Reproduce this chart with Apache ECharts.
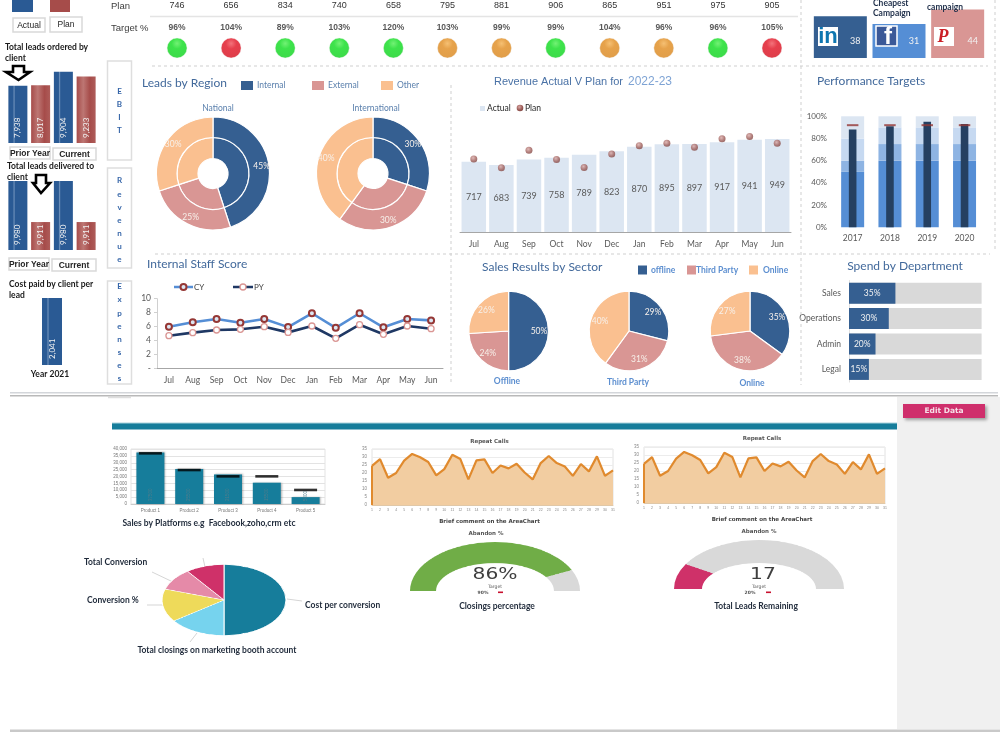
<!DOCTYPE html>
<html>
<head>
<meta charset="utf-8">
<title>Marketing dashboard</title>
<script src="https://cdn.jsdelivr.net/npm/echarts@6/dist/echarts.min.js"></script>
<style>
  html, body { margin: 0; padding: 0; background: #fff; width: 1000px; height: 750px; overflow: hidden; }
  .layer { position: absolute; left: 0; top: 0; width: 1000px; height: 750px; }
  .soft { filter: blur(0.45px); }
  .oval { position: absolute; }
  #captions { z-index: 5; pointer-events: none; }
</style>
</head>
<body>
<div id="lower" class="layer soft"></div>
<div id="upper" class="layer"></div>
<div id="captions" class="layer soft"></div>
<script>
// ---- values -------------------------------------------------------------
const months = ['Jul','Aug','Sep','Oct','Nov','Dec','Jan','Feb','Mar','Apr','May','Jun'];
const planRow = [746,656,834,740,658,795,881,906,865,951,975,905];
const targetPct = [96,104,89,103,120,103,99,99,104,96,96,105];
const targetLights = ['green','red','green','green','green','orange','orange','green','orange','orange','green','red'];

const orderedLeads = [7938,8017,9904,9233];
const deliveredLeads = [9980,9911,9980,9911];
const costPerLead = [2041];

const campaignNames = ['LinkedIn','Facebook','Pinterest'];
const campaignCosts = [38,31,44];

const regionNames = ['Internal','External','Other'];
const nationalShare = [45,25,30];
const internationalShare = [30,30,40];

const revenueActual = [717,683,739,758,789,823,870,895,897,917,941,949];

const perfYears = ['2017','2018','2019','2020'];
const bandLow = [50,60,60,60];
const bandMid = [10,15,15,15];
const bandHigh = [20,15,15,15];
const bandTop = [20,10,10,10];
const perfActual = [88,91,95,93];
const perfTarget = [92,92,92,92];

const staffCY = [5.96,6.6,7.07,6.54,7.07,5.9,7.9,5.8,7.9,5.87,7.07,6.87];
const staffPY = [4.66,5.1,5.48,5.58,5.96,5.14,6.06,4.28,6.25,4.86,6.06,5.67];

const sectorNames = ['offline','Third Party','Online'];
const offlineShare = [50,24,26];
const thirdPartyShare = [29,31,40];
const onlineShare = [35,38,27];

const departments = ['Sales','Operations','Admin','Legal'];
const departmentSpend = [35,30,20,15];

const products = ['Product 1','Product 2','Product 3','Product 4','Product 5'];
const platformSales = [37500,25500,21500,15500,5000];
const platformTargets = [36850,24700,20100,20100,10200];

const dayLabels = ['1','2','3','4','5','6','7','8','9','10','11','12','13','14','15','16','17','18','19','20','21','22','23','24','25','26','27','28','29','30','31'];
const repeatCalls = [24.5,28.7,17,20,27.7,31.9,29.8,26.9,18.5,22.4,31.4,28.7,16,27.9,28.5,20,24.7,22.9,25.8,20.3,16,26.2,30.6,26.2,24.1,18.2,25.6,21,30.4,18.2,21.6];

const metricNames = ['Cost per conversion','Total closings on marketing booth account','Conversion %','Total Conversion','Other'];
const metricShare = [50,15,15,10,10];

const closingsPct = 86;
const leadsRemaining = 17;

// ---- palette ------------------------------------------------------------
const NAVY = '#355f91', ROSE = '#d99694', PEACH = '#fac090', SKY = '#558ed5';
const TITLE = '#42699b', GREY_TEXT = '#595959', TEAL = '#167d9b';
const regionColors = [NAVY, ROSE, PEACH];
const LG = echarts.graphic.LinearGradient, RG = echarts.graphic.RadialGradient;

const blueSheen = new LG(0,0,1,0,[{offset:0,color:'#2a5a94'},{offset:.24,color:'#2a5a94'},{offset:.3,color:'#6d90ba'},{offset:.36,color:'#2a5a94'},{offset:1,color:'#2a5a94'}]);
const redSheen = new LG(0,0,1,0,[{offset:0,color:'#a64c4a'},{offset:.35,color:'#bd7673'},{offset:.7,color:'#a64c4a'},{offset:1,color:'#ae5c59'}]);
const lightFill = {
  green: new RG(.5,.28,.75,[{offset:0,color:'#4fee52'},{offset:.35,color:'#0ddc1e'},{offset:1,color:'#0cd01c'}]),
  red: new RG(.5,.28,.75,[{offset:0,color:'#f0505a'},{offset:.35,color:'#e00f20'},{offset:1,color:'#d40d1c'}]),
  orange: new RG(.5,.28,.75,[{offset:0,color:'#f3b050'},{offset:.35,color:'#e08b1e'},{offset:1,color:'#d8851c'}])
};
const planDot = new RG(.4,.35,.7,[{offset:0,color:'#d9a9a6'},{offset:.6,color:'#a0605c'},{offset:1,color:'#7f4440'}]);

// ---- option builders ----------------------------------------------------
const blank = () => ({ grid: [], xAxis: [], yAxis: [], series: [], graphic: [] });
const up = blank(), low = blank(), cap = blank();
const lato = (size, weight) => ({ fontSize: size, fontFamily: 'Lato', fontWeight: weight || 'normal' });
const sans = size => ({ fontSize: size, fontFamily: 'Liberation Sans' });

function cart(c, box, x, y) {
  const g = c.grid.length;
  c.grid.push(box);
  c.xAxis.push(Object.assign({ gridIndex: g }, x));
  c.yAxis.push(Object.assign({ gridIndex: g }, y));
  return { xAxisIndex: c.xAxis.length - 1, yAxisIndex: c.yAxis.length - 1, g };
}
function text(c, str, x, y, font, fill, align, extra) {
  c.graphic.push(Object.assign({ type: 'text', x, y, z: 100, silent: true,
    style: { text: str, font, fill: fill || '#333', align: align || 'left', verticalAlign: 'middle' } }, extra || {}));
}
function rect(c, x, y, w, h, fill, stroke, extra) {
  c.graphic.push(Object.assign({ type: 'rect', z: 90, silent: true, shape: { x, y, width: w, height: h },
    style: { fill: fill || 'transparent', stroke: stroke || null, lineWidth: stroke ? 1.5 : 0 } }, extra || {}));
}
function line(c, x1, y1, x2, y2, stroke, width, dash) {
  c.graphic.push({ type: 'line', z: 1, silent: true, shape: { x1, y1, x2, y2 },
    style: { stroke, lineWidth: width || 1, lineDash: dash || null } });
}
const hint = (c, x, y, w, h, str, font) => {
  rect(c, x, y, w, h, '#fff', '#d9d9d9');
  text(c, str, x + w / 2, y + h / 2 + .5, font || 'bold 8.5px "Liberation Sans Narrow", "Liberation Sans"', '#262626', 'center');
};
const LATO = s => s + 'px Lato';
const LATOB = s => 'bold ' + s + 'px Lato';

// ---- upper page ---------------------------------------------------------
// dashed panel rules
[[152,66,988,66],[155,254,990,254],[801,0,801,385],[451,85,451,385],[995,0,995,250]]
  .forEach(r => line(up, r[0], r[1], r[2], r[3], '#cfcfcf', 1, [3,3]));

// plan / target table
const cellX = i => 177 + i * 54.1;
text(up, 'Plan', 111, 6, '9.5px "Liberation Sans"', '#404040');
text(up, 'Target %', 111, 28, '9.5px "Liberation Sans"', '#404040');
line(up, 150, 16.5, 798, 16.5, '#e4e4e4', 1.5);
planRow.forEach((v, i) => text(up, String(v), cellX(i), 6, '9px "Liberation Sans"', '#333', 'center'));
targetPct.forEach((v, i) => text(up, v + '%', cellX(i), 28, 'bold 8.5px "Liberation Sans"', '#595959', 'center'));
const lights = cart(up, { left: 150, top: 38, width: 649, height: 20 },
  { type: 'category', data: months, show: false }, { type: 'value', min: 0, max: 2, show: false });
up.series.push({ type: 'scatter', xAxisIndex: lights.xAxisIndex, yAxisIndex: lights.yAxisIndex, symbolSize: 20, silent: true,
  data: targetLights.map((l, i) => ({ value: [months[i], 1], itemStyle: { color: lightFill[l], borderColor: '#f4f4f4', borderWidth: .5 } })) });

// left column: legend swatches and boxes
rect(up, 12, -2, 21, 14, '#2a5a94');
rect(up, 50, -2, 20, 14, '#a64c4a');
hint(up, 13, 18, 32, 14, 'Actual', '8.5px "Liberation Sans"');
hint(up, 50, 17, 32, 15, 'Plan', '8.5px "Liberation Sans"');

const sideLabel = { show: true, position: 'insideBottom', rotate: 90, align: 'left', verticalAlign: 'middle', distance: 5,
  color: '#f2f2f2', fontSize: 8, fontFamily: 'Lato', formatter: p => p.value.toLocaleString('en-US') };
function sideBars(c, box, cats, vals, max, min) {
  const a = cart(c, box, { type: 'category', data: cats, show: false }, { type: 'value', min, max, show: false });
  c.series.push({ type: 'bar', xAxisIndex: a.xAxisIndex, yAxisIndex: a.yAxisIndex, barWidth: 19, silent: true,
    data: vals.map((v, i) => ({ value: v, itemStyle: { color: i % 2 ? redSheen : blueSheen } })),
    label: sideLabel });
}
const blockBold = LATOB(8.5);
text(up, 'Total leads ordered by', 5, 47.5, blockBold, '#1a1a1a');
text(up, 'client', 5, 58, blockBold, '#1a1a1a');
sideBars(up, { left: 6.5, top: 71, width: 91, height: 72 }, ['Prior actual','Prior plan','Current actual','Current plan'], orderedLeads, 10000, 0);
hint(up, 10, 147, 40, 12, 'Prior Year');
hint(up, 53, 148, 43, 12, 'Current');

text(up, 'Total leads delivered to', 7, 166.5, blockBold, '#1a1a1a');
text(up, 'client', 7, 177, blockBold, '#1a1a1a');
sideBars(up, { left: 6.5, top: 181, width: 91, height: 69 }, ['Prior actual','Prior plan','Current actual','Current plan'], deliveredLeads, 9980, 9864);
hint(up, 9, 258, 40, 12, 'Prior Year');
hint(up, 52, 259, 44, 12, 'Current');

function arrow(points) {
  up.graphic.push({ type: 'polygon', z: 95, silent: true, shape: { points },
    style: { fill: '#fff', stroke: '#000', lineWidth: 2.6, lineJoin: 'miter' } });
}
arrow([[13,66],[24,66],[24,72],[30,72],[18.5,80],[6,72],[13,72]]);
arrow([[36,175],[46,175],[46,183],[50,183],[41,193],[33,183],[36,183]]);

text(up, 'Cost paid by client per', 9, 284.5, blockBold, '#1a1a1a');
text(up, 'lead', 9, 295, blockBold, '#1a1a1a');
const costAxes = cart(up, { left: 42, top: 298, width: 20, height: 67 },
  { type: 'category', data: ['2021'], show: false }, { type: 'value', min: 0, max: 2041, show: false });
up.series.push({ type: 'bar', xAxisIndex: costAxes.xAxisIndex, yAxisIndex: costAxes.yAxisIndex, barWidth: 20, silent: true,
  data: costPerLead, itemStyle: { color: blueSheen }, label: Object.assign({}, sideLabel, { distance: 6 }) });
text(up, 'Year 2021', 50, 374, blockBold, '#1a1a1a', 'center');

// vertical section tabs
function tab(y, h, letters, ys) {
  rect(up, 107.5, y, 24, h, '#fff', '#dedede');
  letters.split('').forEach((ch, i) => text(up, ch, 119.5, ys[i], 'bold 8px Lato', '#3565a8', 'center'));
}
tab(61, 99, 'EBIT', [91,104,117,130]);
tab(168, 100, 'Revenue', [180,194,207,220,233,246,259]);
tab(281, 103, 'Expenses', [286,299,313,326,339,352,365,378]);
line(up, 108, 397.5, 131, 397.5, '#dedede', 1.5);

// separator between pages
rect(up, 10, 392, 988, 1.5, '#d3d6da');
rect(up, 10, 395, 988, 1.5, '#b9b9b9');

// social tiles: height follows campaign cost
const tileAxes = cart(up, { left: 811, top: 3, width: 176, height: 55 },
  { type: 'category', data: campaignNames, show: false }, { type: 'value', min: 0, max: 50, show: false });
up.series.push({ type: 'bar', xAxisIndex: tileAxes.xAxisIndex, yAxisIndex: tileAxes.yAxisIndex, barWidth: 53, silent: true,
  data: campaignCosts.map((v, i) => ({ value: v, itemStyle: { color: [NAVY, SKY, ROSE][i] } })),
  label: Object.assign({ show: true, position: 'insideBottom', offset: [15, -7], color: '#f2f2f2' }, lato(9)) });
rect(up, 818, 27, 20, 19, '#fff');
text(up, 'in', 828, 36.5, 'bold 22px "Liberation Sans"', '#0e76b0', 'center');
rect(up, 876, 26, 21, 20, '#3b5998', '#fff');
text(up, 'f', 888, 37, 'bold 24px "Liberation Sans"', '#fff', 'center');
rect(up, 934, 27, 20, 19, '#fff');
text(up, 'P', 943, 37, 'bold italic 18px "Liberation Serif"', '#cb2027', 'center');
text(up, 'Cheapest', 873, 3, blockBold, '#1f2f4a');
text(up, 'Campaign', 873, 13, blockBold, '#1f2f4a');
text(up, 'campaign', 927, 7, blockBold, '#1f2f4a');

// leads by region
text(up, 'Leads by Region', 142, 83, LATO(12), TITLE);
regionNames.forEach((n, i) => {
  const x = [241, 312, 381][i];
  rect(up, x, 81, 12, 9, regionColors[i]);
  text(up, n, x + 16, 85.5, LATO(8.5), '#5b80ad');
});
text(up, 'National', 218, 108, LATO(8.5), '#5b80ad', 'center');
text(up, 'International', 376, 108, LATO(8.5), '#5b80ad', 'center');
function donut(center, share) {
  const data = share.map((v, i) => ({ value: v, name: regionNames[i], itemStyle: { color: regionColors[i] } }));
  const base = { type: 'pie', center, silent: true, startAngle: 90, labelLine: { show: false },
    itemStyle: { borderColor: '#fff', borderWidth: 1.2 } };
  up.series.push(Object.assign({}, base, { radius: [15, 36], data, label: { show: false } }));
  up.series.push(Object.assign({}, base, { radius: [36, 56.5], data,
    label: Object.assign({ show: true, position: 'inside', formatter: '{c}%', color: '#f7f0ea' }, lato(8.5)) }));
}
donut([213, 173.5], nationalShare);
donut([373, 173.5], internationalShare);

// revenue actual vs plan
text(up, 'Revenue Actual V Plan for', 494, 82, '11px "Liberation Sans"', '#4a72a6');
text(up, '2022-23', 628, 82, '12px "Liberation Sans"', '#7ea3d4');
rect(up, 480, 106, 5, 5, '#dce6f2');
text(up, 'Actual', 487, 108.5, LATO(8.5), '#262626');
up.graphic.push({ type: 'circle', z: 95, silent: true, shape: { cx: 520, cy: 108, r: 3.3 }, style: { fill: planDot } });
text(up, 'Plan', 525, 108.5, LATO(8.5), '#262626');
const revAxes = cart(up, { left: 460, top: 134, width: 331, height: 98 },
  { type: 'category', data: months, axisTick: { show: false }, axisLine: { lineStyle: { color: '#a6a6a6', width: 1 } },
    axisLabel: Object.assign({ color: GREY_TEXT, margin: 8, interval: 0 }, lato(8.5)) },
  { type: 'value', min: 0, max: 1000, show: false });
up.series.push({ type: 'bar', xAxisIndex: revAxes.xAxisIndex, yAxisIndex: revAxes.yAxisIndex, barWidth: 24.5, silent: true,
  data: revenueActual, itemStyle: { color: '#dce6f2' },
  label: Object.assign({ show: true, position: 'inside', color: GREY_TEXT }, lato(9)) });
up.series.push({ type: 'scatter', xAxisIndex: revAxes.xAxisIndex, yAxisIndex: revAxes.yAxisIndex, symbolSize: 7, silent: true,
  data: planRow, itemStyle: { color: planDot } });

// performance targets
text(up, 'Performance Targets', 817, 81.5, LATO(12), TITLE);
const perfBox = { left: 834, top: 116.3, width: 149.2, height: 111 };
const perfCat = { type: 'category', data: perfYears, axisTick: { show: false }, axisLine: { show: false },
  axisLabel: Object.assign({ color: GREY_TEXT, margin: 6 }, lato(8.5)) };
const perfVal = { type: 'value', min: 0, max: 100, interval: 20, splitLine: { show: false },
  axisLabel: Object.assign({ color: GREY_TEXT, formatter: '{value}%', margin: 7 }, lato(8)) };
const perfAxes = cart(up, perfBox, perfCat, perfVal);
[[bandLow,'#558ed5'],[bandMid,'#8eb4e3'],[bandHigh,'#c6d9f1'],[bandTop,'#dce6f2']].forEach(b =>
  up.series.push({ type: 'bar', stack: 'bands', barWidth: 23, silent: true, xAxisIndex: perfAxes.xAxisIndex, yAxisIndex: perfAxes.yAxisIndex,
    data: b[0], itemStyle: { color: b[1] } }));
up.xAxis.push({ gridIndex: perfAxes.g, type: 'category', data: perfYears, show: false });
const perfOverlay = up.xAxis.length - 1;
up.series.push({ type: 'bar', barWidth: 7.6, silent: true, xAxisIndex: perfOverlay, yAxisIndex: perfAxes.yAxisIndex,
  data: perfActual, itemStyle: { color: '#254061' }, z: 3 });
up.series.push({ type: 'scatter', symbol: 'rect', symbolSize: [11.5, 2], silent: true, xAxisIndex: perfOverlay, yAxisIndex: perfAxes.yAxisIndex,
  data: perfTarget, itemStyle: { color: '#953735' }, z: 4 });

// internal staff score
text(up, 'Internal Staff Score', 147, 264, LATO(12), TITLE);
const cyMarker = { color: '#dce6f2', borderColor: '#953735', borderWidth: 2 };
const pyMarker = { color: '#fff', borderColor: '#da9694', borderWidth: 1.3 };
function staffKey(x1, x2, color, marker, label) {
  line(up, x1, 287, x2, 287, color, 2.5);
  up.graphic.push({ type: 'circle', z: 95, silent: true, shape: { cx: (x1 + x2) / 2, cy: 287, r: 3 },
    style: { fill: marker.color, stroke: marker.borderColor, lineWidth: marker.borderWidth } });
  text(up, label, x2 + 1, 287.5, LATO(8), '#404040');
}
staffKey(174, 193, SKY, cyMarker, 'CY');
staffKey(233, 253, '#1f3864', pyMarker, 'PY');
const staffAxes = cart(up, { left: 157, top: 298.7, width: 286, height: 69.3 },
  { type: 'category', data: months, axisTick: { show: false }, axisLine: { lineStyle: { color: '#a6a6a6' } },
    axisLabel: Object.assign({ color: GREY_TEXT, margin: 8, interval: 0 }, lato(8.5)) },
  { type: 'value', min: 0, max: 10, interval: 2, splitLine: { show: false },
    axisLine: { show: true, lineStyle: { color: '#d0d0d0' } }, axisTick: { show: true, length: 3, lineStyle: { color: '#d0d0d0' } },
    axisLabel: Object.assign({ color: GREY_TEXT, margin: 6, formatter: v => v === 0 ? '-' : v }, lato(8.5)) });
up.series.push({ type: 'line', data: staffCY, xAxisIndex: staffAxes.xAxisIndex, yAxisIndex: staffAxes.yAxisIndex, silent: true,
  symbol: 'circle', symbolSize: 6, lineStyle: { color: SKY, width: 2.6 }, itemStyle: cyMarker });
up.series.push({ type: 'line', data: staffPY, xAxisIndex: staffAxes.xAxisIndex, yAxisIndex: staffAxes.yAxisIndex, silent: true,
  symbol: 'circle', symbolSize: 6, lineStyle: { color: '#1f3864', width: 2.6 }, itemStyle: pyMarker });

// sales by sector
text(up, 'Sales Results by Sector', 482, 267.5, LATO(12), TITLE);
[[638,651],[687,696],[749,763]].forEach((p, i) => {
  rect(up, p[0], 265.5, 9, 9, regionColors[i]);
  text(up, sectorNames[i], p[1], 270, LATOB(8.5), '#5d8fd0');
});
function sectorPie(cx, share) {
  const data = share.map((v, i) => ({ value: v, name: regionNames[i], itemStyle: { color: regionColors[i] } }));
  up.series.push({ type: 'pie', center: [cx, 331], radius: [0, 39.8], startAngle: 90, silent: true, data,
    label: { show: false }, labelLine: { show: false }, itemStyle: { borderColor: '#fff', borderWidth: 1.2 } });
  // transparent ring that only carries the labels further out on each slice
  up.series.push({ type: 'pie', center: [cx, 331], radius: [15, 39.8], startAngle: 90, silent: true,
    data: share.map((v, i) => ({ value: v, name: regionNames[i], itemStyle: { color: 'rgba(0,0,0,0)' } })),
    labelLine: { show: false }, label: Object.assign({ show: true, position: 'inside', formatter: '{c}%', color: '#f7f0ea' }, lato(8.5)) });
}
sectorPie(508.6, offlineShare);
sectorPie(629, thirdPartyShare);
sectorPie(750, onlineShare);
text(up, 'Offline', 507, 381.5, LATOB(8.5), '#5d8fd0', 'center');
text(up, 'Third Party', 628, 382, LATOB(8.5), '#5d8fd0', 'center');
text(up, 'Online', 752, 383, LATOB(8.5), '#5d8fd0', 'center');

// spend by department
text(up, 'Spend by Department', 905, 266.5, LATO(12), TITLE, 'center');
const spendAxes = cart(up, { left: 849, top: 280.5, width: 132.6, height: 101.6 },
  { type: 'value', min: 0, max: 100, show: false },
  { type: 'category', data: departments, inverse: true, axisTick: { show: false },
    axisLine: { lineStyle: { color: '#e0e0e0' } }, axisLabel: Object.assign({ color: GREY_TEXT, margin: 8, interval: 0 }, lato(8.5)) });
up.series.push({ type: 'bar', xAxisIndex: spendAxes.xAxisIndex, yAxisIndex: spendAxes.yAxisIndex, barWidth: 21, silent: true,
  data: departmentSpend, itemStyle: { color: NAVY }, showBackground: true, backgroundStyle: { color: '#d9d9d9' },
  label: Object.assign({ show: true, position: 'inside', formatter: '{c}%', color: '#f2f2f2' }, lato(8.5)) });

// ---- lower page ---------------------------------------------------------
rect(low, 897, 397, 103, 332, '#f0f0f0', null, { z: 0 });
rect(low, 10, 729.5, 990, 2.5, '#c9c9c9');
rect(low, 112, 423, 785, 6.5, TEAL);
rect(low, 112, 422.5, 785, 1, '#a9d3dd');
low.graphic.push({ type: 'rect', z: 90, silent: true, shape: { x: 903, y: 404, width: 82, height: 14 },
  style: { fill: '#cf2f6c', shadowBlur: 3, shadowOffsetX: 2, shadowOffsetY: 2, shadowColor: 'rgba(0,0,0,.35)' } });
text(low, 'Edit Data', 944, 411, 'bold 7.5px "DejaVu Sans"', '#f6dfe8', 'center');

// sales by platform
const tiny = { color: '#777', fontSize: 4.5, fontFamily: 'Liberation Sans' };
const platformAxes = cart(low, { left: 131, top: 449, width: 194, height: 55, show: true, borderColor: '#e3e3e3', borderWidth: 1 },
  { type: 'category', data: products, axisTick: { show: false }, axisLine: { lineStyle: { color: '#ccc' } }, axisLabel: Object.assign({ margin: 4, interval: 0 }, tiny) },
  { type: 'value', min: 0, max: 40000, interval: 5000, splitLine: { lineStyle: { color: '#e3e3e3' } }, axisLine: { show: false }, axisTick: { show: false },
    axisLabel: Object.assign({ margin: 4, formatter: v => v.toLocaleString('en-US') }, tiny) });
low.series.push({ type: 'bar', xAxisIndex: platformAxes.xAxisIndex, yAxisIndex: platformAxes.yAxisIndex, barWidth: 28, silent: true,
  data: platformSales, itemStyle: { color: TEAL, shadowBlur: 2, shadowColor: 'rgba(0,0,0,.3)', shadowOffsetX: 1 },
  label: Object.assign({ show: true, position: 'insideBottom', rotate: 90, align: 'left', verticalAlign: 'middle', distance: 3, color: '#4f7d8c' }, sans(4.5)) });
low.series.push({ type: 'scatter', xAxisIndex: platformAxes.xAxisIndex, yAxisIndex: platformAxes.yAxisIndex, symbol: 'rect', symbolSize: [23, 2.6], silent: true,
  data: platformTargets, itemStyle: { color: '#000' } });
text(low, 'Sales by Platforms e.g  Facebook,zoho,crm etc', 209, 523, LATOB(8.5), '#1f2a3a', 'center');

// repeat-call area charts
function areaChart(left, top, titleX, titleY, noteY, abandonX, abandonY) {
  const a = cart(low, { left, top, width: 241, height: 56, show: true, borderColor: '#e2e2e2', borderWidth: 1 },
    { type: 'category', data: dayLabels, boundaryGap: false, axisTick: { show: false }, axisLine: { lineStyle: { color: '#e0c8a8' } },
      axisLabel: { color: '#888', fontSize: 3.5, fontFamily: 'Liberation Sans', interval: 0, margin: 3 } },
    { type: 'value', min: 0, max: 35, interval: 5, splitLine: { lineStyle: { color: '#ececec' } }, axisLine: { show: false }, axisTick: { show: false },
      axisLabel: { color: '#888', fontSize: 4.5, fontFamily: 'Liberation Sans', margin: 5 } });
  low.series.push({ type: 'line', xAxisIndex: a.xAxisIndex, yAxisIndex: a.yAxisIndex, data: repeatCalls, symbol: 'none', silent: true,
    lineStyle: { color: '#e08a2e', width: 2.2 }, areaStyle: { color: '#f2cda1', opacity: 1 },
    markLine: { silent: true, symbol: 'none', label: { show: false }, lineStyle: { color: '#e08a2e', width: 2, type: 'solid' },
      data: [[{ coord: [dayLabels[0], 0] }, { coord: [dayLabels[0], repeatCalls[0]] }]] } });
  const wide = 'bold 5.5px "DejaVu Sans"';
  text(low, 'Repeat Calls', titleX, titleY, wide, '#555', 'center');
  text(low, 'Brief comment on the AreaChart', titleX, noteY, wide, '#444', 'center');
  text(low, 'Abandon %', abandonX, abandonY, wide, '#555', 'center');
}
areaChart(372, 449, 489.5, 442, 522, 486, 534);
areaChart(644, 447, 762, 439, 520, 759, 532);

// conversion pie: leader lines and captions
[[287,599,302,601],[197,633,190,642],[163,605,147,605],[152,572,173,582],[203,558,205,567]]
  .forEach(l => line(low, l[0], l[1], l[2], l[3], '#d5d5d5', 1));
text(low, metricNames[0], 305, 605.5, LATOB(8.5), '#1f2a3a');
text(low, metricNames[1], 217, 650, LATOB(8.5), '#1f2a3a', 'center');
text(low, metricNames[2], 87, 600, LATOB(8.5), '#1f2a3a');
text(low, metricNames[3], 84, 562.5, LATOB(8.5), '#1f2a3a');

// gauge captions
function gaugeText(cx, valueX, value, targetText, targetX, markX, caption, captionX) {
  text(cap, value, valueX, 575, '15px "DejaVu Sans"', '#3f3f3f', 'center', { scaleX: 1.35 });
  text(cap, 'Target', cx, 587, '4.5px "DejaVu Sans"', '#555', 'center');
  text(cap, targetText, targetX, 592.5, 'bold 4.5px "DejaVu Sans"', '#555', 'center');
  rect(cap, markX, 591.5, 5, 1.6, '#c8102e');
  text(cap, caption, captionX, 606, LATOB(8.5), '#1f2a3a', 'center');
}
gaugeText(495, 495, closingsPct + '%', '90%', 483, 498, 'Closings percentage', 497);
gaugeText(759, 763, String(leadsRemaining), '20%', 750, 766, 'Total Leads Remaining', 756);

// ---- render -------------------------------------------------------------
function render(id, opt) {
  const chart = echarts.init(document.getElementById(id), null, { renderer: 'canvas' });
  chart.setOption(Object.assign({ animation: false, backgroundColor: 'transparent' }, opt));
}
render('lower', low);
render('upper', up);
render('captions', cap);

// the tilted pie and the half-round gauges are ordinary pies flattened vertically;
// the gauge hole is squashed less than the rim, so it is its own half-ellipse
function oval(cx, cy, rx, ry, series, hole) {
  const box = document.createElement('div');
  const side = 2 * rx + 8;
  box.className = 'oval soft';
  box.style.cssText = `left:${cx - side / 2}px;top:${cy - side / 2}px;width:${side}px;height:${side}px;transform:scaleY(${ry / rx});`;
  document.body.appendChild(box);
  const graphic = hole ? [{ type: 'sector', x: side / 2, y: side / 2, scaleY: hole.ry / hole.rx * rx / ry, silent: true, z: 100,
    shape: { cx: 0, cy: 0, r: hole.rx, startAngle: Math.PI, endAngle: 2 * Math.PI }, style: { fill: '#fff' } }] : [];
  echarts.init(box).setOption({ animation: false, graphic,
    series: [Object.assign({ type: 'pie', silent: true, center: ['50%', '50%'], label: { show: false }, labelLine: { show: false } }, series)] });
}
const metricColors = [TEAL, '#76d3ee', '#eeda5a', '#e58aa8', '#cf3169'];
oval(224, 600, 62, 35.5, { radius: [0, 62], startAngle: 90,
  data: metricShare.map((v, i) => ({ value: v, name: metricNames[i], itemStyle: { color: metricColors[i], borderColor: '#fff', borderWidth: 1 } })) });
const gaugeSlices = (v, color) => [
  { value: v, name: 'Reached', itemStyle: { color } },
  { value: 100 - v, name: 'Remaining', itemStyle: { color: '#d9d9d9' } },
  { value: 100, name: 'Hidden', itemStyle: { color: 'rgba(0,0,0,0)' } }
];
oval(495, 591, 85, 49, { radius: [0, 85], startAngle: 180, data: gaugeSlices(closingsPct, '#70ad47') }, { rx: 59, ry: 28 });
oval(759, 589, 85, 49, { radius: [0, 85], startAngle: 180, data: gaugeSlices(leadsRemaining, '#cf3169') }, { rx: 57, ry: 26 });
</script>
</body>
</html>
